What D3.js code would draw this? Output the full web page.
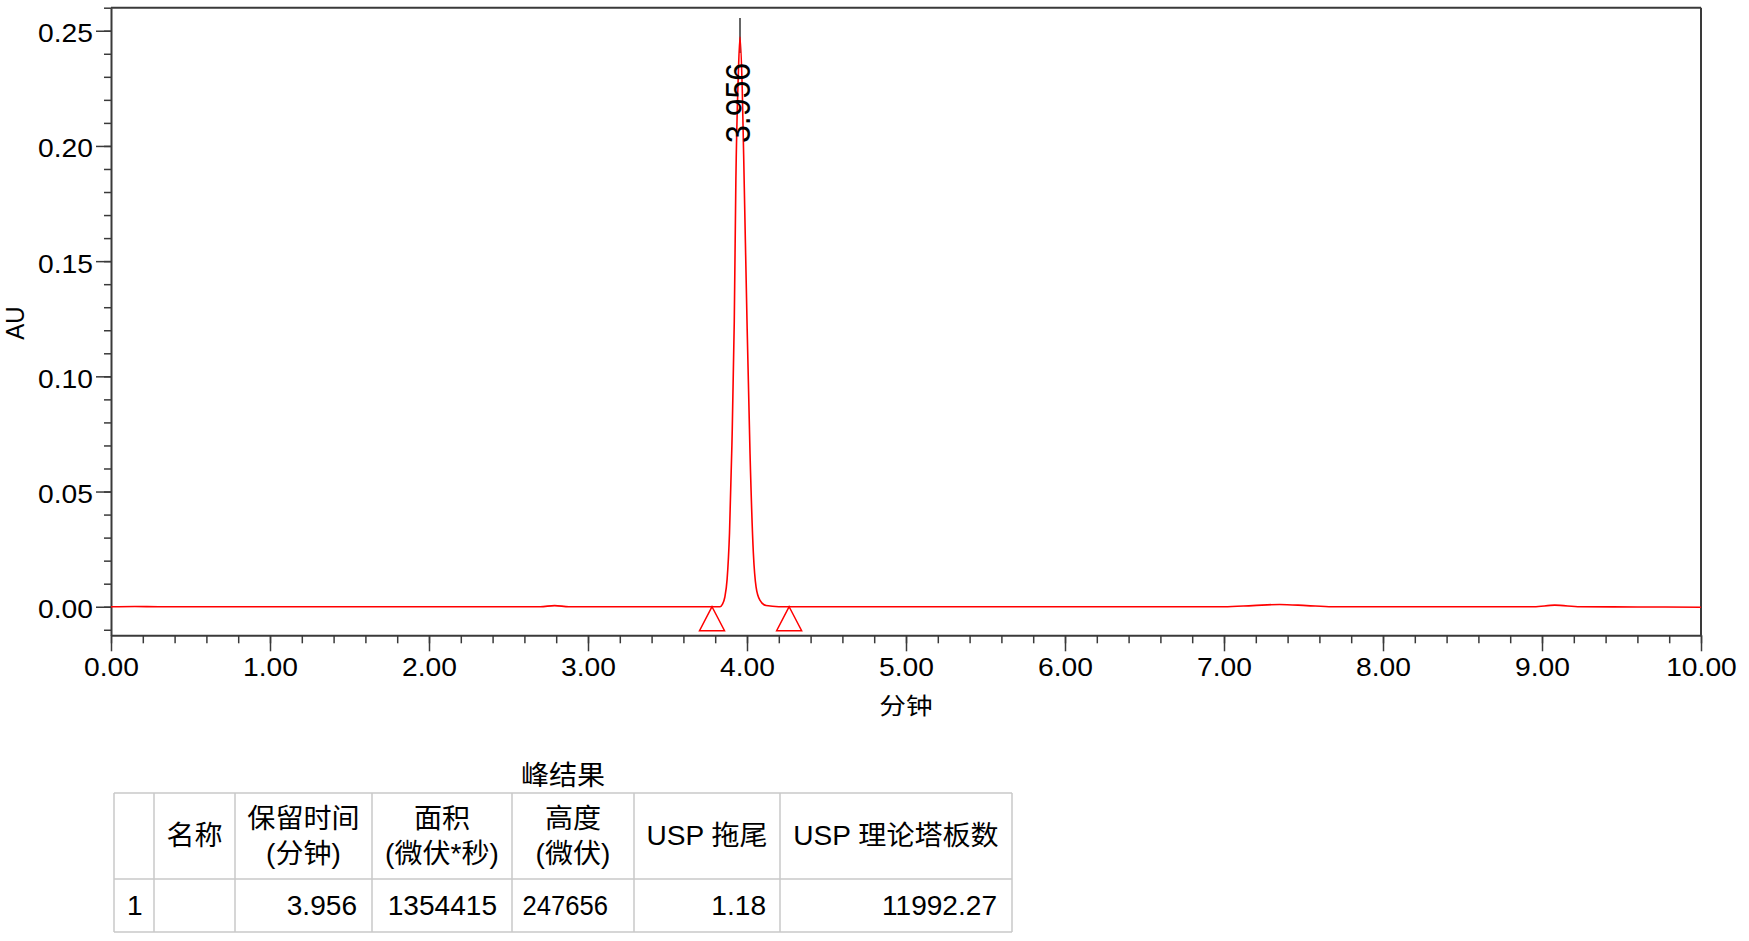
<!DOCTYPE html>
<html>
<head>
<meta charset="utf-8">
<script src="https://cdn.jsdelivr.net/npm/d3@7"></script>
<style>
  body { margin: 0; background: #fff; }
  text { font-family: "Liberation Sans", Arial, "Noto Sans CJK SC", sans-serif; fill: #000; }
</style>
</head>
<body>
<svg id="chart" width="1749" height="941"></svg>
<script>
// chromatogram trace (minutes / AU)
const times = [0.00, 0.15, 0.30, 1.00, 2.00, 2.70, 2.79, 2.88, 3.50, 3.80, 3.83, 3.845, 3.86, 3.875, 3.89, 3.905,
  3.92, 3.93, 3.945, 3.956, 3.97, 3.983, 4.00, 4.019, 4.04, 4.057, 4.08, 4.12, 4.20, 5.00, 6.00, 7.00, 7.18,
  7.35, 7.52, 7.68, 8.50, 8.95, 9.08, 9.24, 9.60, 10.00];
const absorb = [0.0000, 0.0001, 0.0000, 0.0000, 0.0000, 0.0000, 0.0005, 0.0000, 0.0000, 0.0000, 0.0000, 0.0010,
  0.0040, 0.0120, 0.0320, 0.0700, 0.1240, 0.1850, 0.2300, 0.2473, 0.2250, 0.1820, 0.1240, 0.0666, 0.0233, 0.0086,
  0.0030, 0.0005, 0.0000, 0.0000, 0.0000, 0.0000, 0.0005, 0.0010, 0.0005, 0.0000, 0.0000, 0.0000, 0.0007, 0.0000,
  -0.0001, -0.0002];

const peakTimes = [3.956];
const peakLabels = ["3.956"];
const peakHeights = [0.2473];
const markerTimes = [3.78, 4.265];   // integration start / end

const xTicks = [0, 1, 2, 3, 4, 5, 6, 7, 8, 9, 10];
const xTickLabels = ["0.00", "1.00", "2.00", "3.00", "4.00", "5.00", "6.00", "7.00", "8.00", "9.00", "10.00"];
const yTicks = [0, 0.05, 0.10, 0.15, 0.20, 0.25];
const yTickLabels = ["0.00", "0.05", "0.10", "0.15", "0.20", "0.25"];

// peak results table
const tableTitle = "峰结果";
const tableHeaders = [[""], ["名称"], ["保留时间", "(分钟)"], ["面积", "(微伏*秒)"], ["高度", "(微伏)"], ["USP 拖尾"], ["USP 理论塔板数"]];
const tableRow = ["1", "", "3.956", "1354415", "247656", "1.18", "11992.27"];

const svg = d3.select("#chart");
const axisColor = "#3a3a3a";

const x = d3.scaleLinear().domain([0, 10]).range([111, 1701]);
const y = d3.scaleLinear().domain([-0.0124, 0.26]).range([635.3, 7.7]);

// minor ticks
svg.append("g")
  .attr("transform", "translate(" + x(0) + ",0)")
  .call(d3.axisLeft(y).tickValues(d3.range(-1, 27).map(i => i / 100)).tickSize(7).tickSizeOuter(0).tickFormat(""))
  .call(g => g.select(".domain").remove())
  .selectAll("line").attr("stroke", axisColor).attr("stroke-width", 1.5);

svg.append("g")
  .attr("transform", "translate(0," + y.range()[0] + ")")
  .call(d3.axisBottom(x).tickValues(d3.range(0, 51).map(i => i / 5)).tickSize(8).tickSizeOuter(0).tickFormat(""))
  .call(g => g.select(".domain").remove())
  .selectAll("line").attr("stroke", axisColor).attr("stroke-width", 1.5);

// major axes
const yAxis = svg.append("g")
  .attr("transform", "translate(" + x(0) + ",0)")
  .attr("font-size", null).attr("font-family", null)
  .call(d3.axisLeft(y).tickValues(yTicks).tickFormat((d, i) => yTickLabels[i]).tickSize(15).tickSizeOuter(0));
yAxis.select(".domain").attr("stroke", axisColor).attr("stroke-width", 2);
yAxis.selectAll("line").attr("stroke", axisColor).attr("stroke-width", 1.5);
yAxis.selectAll("text")
  .attr("x", null).attr("dy", null)
  .attr("text-anchor", "end")
  .attr("transform", "translate(-18,11) scale(1.13,1)")
  .style("font-size", "25px").style("fill", "#000");

const xAxis = svg.append("g")
  .attr("transform", "translate(0," + y.range()[0] + ")")
  .attr("font-size", null).attr("font-family", null)
  .call(d3.axisBottom(x).tickValues(xTicks).tickFormat((d, i) => xTickLabels[i]).tickSize(16).tickSizeOuter(0));
xAxis.select(".domain").attr("stroke", axisColor).attr("stroke-width", 2);
xAxis.selectAll("line").attr("stroke", axisColor).attr("stroke-width", 1.5);
xAxis.selectAll("text")
  .attr("y", null).attr("dy", null)
  .attr("text-anchor", "middle")
  .attr("transform", "translate(0,40.7) scale(1.13,1)")
  .style("font-size", "25px").style("fill", "#000");

// frame: top and right
svg.append("line")
  .attr("x1", x(0)).attr("x2", x(10)).attr("y1", y(0.26)).attr("y2", y(0.26))
  .attr("stroke", axisColor).attr("stroke-width", 2);
svg.append("line")
  .attr("x1", x(10)).attr("x2", x(10)).attr("y1", y(0.26)).attr("y2", y.range()[0])
  .attr("stroke", axisColor).attr("stroke-width", 2);

// axis titles
svg.append("text")
  .attr("transform", "translate(24,323) rotate(-90) scale(1,1.1)")
  .attr("text-anchor", "middle")
  .style("font-size", "24px")
  .text("AU");

svg.append("text")
  .attr("transform", "translate(" + ((x(0) + x(10)) / 2) + ",714) scale(1.16,1)")
  .attr("text-anchor", "middle")
  .style("font-size", "23px")
  .text("分钟");

// peak apex marker line
svg.selectAll(".apex")
  .data(peakTimes)
  .enter().append("line")
  .attr("class", "apex")
  .attr("x1", d => x(d)).attr("x2", d => x(d))
  .attr("y1", y(0.2555)).attr("y2", y(0.2403))
  .attr("stroke", "#000").attr("stroke-width", 1.2);

// trace
const points = times.map((t, i) => [t, absorb[i]]);
const line = d3.line()
  .x(d => x(d[0]))
  .y(d => y(d[1]))
  .curve(d3.curveMonotoneX);

svg.append("path")
  .datum(points)
  .attr("d", line)
  .attr("fill", "none")
  .attr("stroke", "#ff0000")
  .attr("stroke-width", 1.6);

// integration markers
svg.selectAll(".marker")
  .data(markerTimes)
  .enter().append("path")
  .attr("class", "marker")
  .attr("transform", d => "translate(" + x(d) + "," + y(0) + ")")
  .attr("d", "M0,0L12.5,24L-12.5,24Z")
  .attr("fill", "none")
  .attr("stroke", "#ff0000")
  .attr("stroke-width", 1.5);

// peak label
svg.selectAll(".plabel")
  .data(peakTimes)
  .enter().append("text")
  .attr("class", "plabel")
  .attr("transform", (d, i) => "translate(" + (x(d) + 10) + "," + (y(peakHeights[i]) + 106) + ") rotate(-90) scale(1,1.09)")
  .attr("text-anchor", "start")
  .style("font-size", "32px")
  .text((d, i) => peakLabels[i]);

// table
const colEdges = [114, 154, 235, 372, 512, 634, 780, 1012];
const rowEdges = [793, 879, 932];
const gridColor = "#c8c8c8";
const tableFont = "27px";

svg.append("text")
  .attr("transform", "translate(" + ((colEdges[0] + colEdges[colEdges.length - 1]) / 2) + ",785) scale(1.04,1)")
  .attr("text-anchor", "middle")
  .style("font-size", tableFont)
  .text(tableTitle);

const grid = svg.append("g");
grid.selectAll(".hline")
  .data(rowEdges)
  .enter().append("line")
  .attr("x1", colEdges[0]).attr("x2", colEdges[colEdges.length - 1])
  .attr("y1", d => d).attr("y2", d => d)
  .attr("stroke", gridColor).attr("stroke-width", 1.5);
grid.selectAll(".vline")
  .data(colEdges)
  .enter().append("line")
  .attr("x1", d => d).attr("x2", d => d)
  .attr("y1", rowEdges[0]).attr("y2", rowEdges[rowEdges.length - 1])
  .attr("stroke", gridColor).attr("stroke-width", 1.5);

tableHeaders.forEach((lines, c) => {
  const cx = (colEdges[c] + colEdges[c + 1]) / 2;
  const base = lines.length === 1 ? [845] : [828, 863];
  lines.forEach((s, k) => {
    svg.append("text")
      .attr("transform", "translate(" + cx + "," + base[k] + ") scale(1.04,1)")
      .attr("text-anchor", "middle")
      .style("font-size", tableFont)
      .text(s);
  });
});

const cellPad = [13, 13, 15, 15, 26, 14, 15];
const cellScale = [1.04, 1.04, 1.04, 1.04, 0.95, 1.04, 1.04];
tableRow.forEach((s, c) => {
  const left = c === 0;
  const px = left ? colEdges[c] + cellPad[c] : colEdges[c + 1] - cellPad[c];
  svg.append("text")
    .attr("transform", "translate(" + px + ",914.7) scale(" + cellScale[c] + ",1)")
    .attr("text-anchor", left ? "start" : "end")
    .style("font-size", tableFont)
    .text(s);
});
</script>
</body>
</html>
